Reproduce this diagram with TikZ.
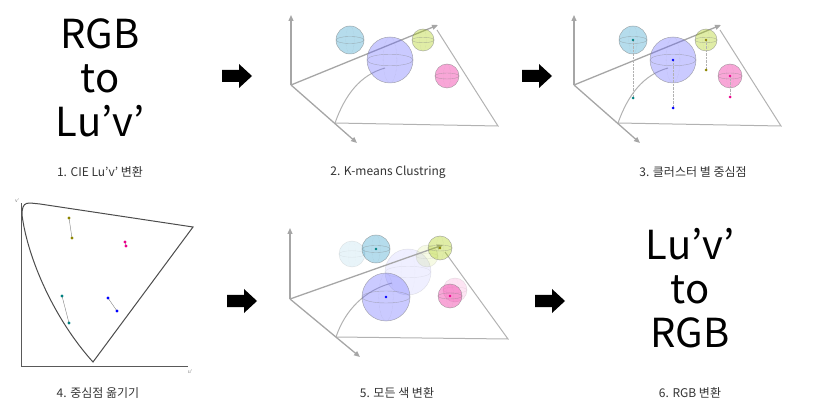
\documentclass[tikz,border=0pt]{standalone}
\usepackage{fontspec}
\setmainfont{Noto Sans CJK KR}
\usetikzlibrary{arrows.meta}
\newcommand\mysph[5][1]{% opacity, x,y,r,color
  \fill[#5,opacity=0.35*#1] (#2,#3) circle (#4);
  \draw[gray,opacity=0.6*#1,line width=0.5pt] (#2,#3) circle (#4);
  \draw[gray,opacity=0.5*#1,line width=0.4pt] (#2,#3) ellipse ({#4} and {0.25*#4});
  \draw[gray,opacity=0.3*#1,line width=0.3pt,densely dotted] (#2,#3) ellipse ({0.3*#4} and {#4});
}
\newcommand\blkarrow[3]{% name, x, y (centre)
  \coordinate (#1) at (#2,#3);
  \fill[black] ([shift={(-15,-6)}]#1) -- ++(17,0) -- ++(0,-6) -- ++(13,12) -- ++(-13,12) -- ++(0,-6) -- ++(-17,0) -- cycle;
}
\begin{document}
\begin{tikzpicture}[x=1pt,y=-1pt,
  ax/.style={gray!70,line width=1.3pt,-{Triangle[length=6pt,width=5pt]}},
  tri/.style={gray!60,line width=1pt},
  lab/.style={font=\fontsize{12}{14}\selectfont,text=black!80},
  big/.style={font=\fontsize{40}{48}\selectfont,align=center,text=black}]
\useasboundingbox (0,0) rectangle (819,403);
% panel 1
\node[big] (t1) at (100,78) {RGB\\[-4pt]to\\[-4pt]Lu’v’};
\node[lab] (l1) at (100,172) {1. CIE Lu’v’ 변환};
\blkarrow{a1}{237}{76}
% panel 2
\foreach \dx/\nm in {0/b,283/c}{
\begin{scope}[xshift=\dx]
\coordinate (o\nm) at (291,85);
\draw[tri] (335,123) -- (498,126) -- (437,30);
\draw[tri] (335,123) .. controls (345,95) and (360,75) .. (385,68);
\draw[ax] (o\nm) -- (291,15);
\draw[ax] (o\nm) -- (438,25);
\draw[ax] (o\nm) -- (357,143);
\end{scope}}
\mysph{350}{40}{14}{cyan!60!teal}
\mysph{390}{60}{23}{blue!60}
\mysph{423}{40}{11}{lime!60!olive}
\mysph{447}{76}{12}{magenta}
\node[lab] (l2) at (388,172) {2. K-means Clustring};
\blkarrow{a2}{537}{76}
% panel 3
\mysph{633}{40}{14}{cyan!60!teal}
\mysph{673}{60}{23}{blue!60}
\mysph{706}{40}{11}{lime!60!olive}
\mysph{730}{76}{12}{magenta}
\foreach \x/\y/\yy/\c in {633/40/98/teal,673/60/108/blue,706/40/70/olive,730/76/97/magenta}{
  \draw[gray!60,densely dotted,line width=0.4pt] (\x,\y) -- (\x,\yy);
  \fill[\c] (\x,\y) circle (1.3);
  \fill[\c] (\x,\yy) circle (1.5);}
\node[lab] (l3) at (693,172) {3. 클러스터 별 중심점};
% panel 4
\draw[gray!70!black,line width=0.8pt] (21,366) -- (21,203);
\draw[gray!70!black,line width=0.8pt] (21,366) -- (188,366);
\node[font=\tiny,text=gray] (u4) at (17,201) {v’};
\node[font=\tiny,text=gray] (v4) at (190,372) {u’};
\draw[gray!60!black,line width=1pt] (22,215) .. controls (22,200) and (28,203) .. (40,204)
  -- (193,227) -- (93,362) .. controls (55,320) and (28,260) .. (22,215);
\foreach \ax/\ay/\bx/\by/\c in {69/218/72/238/olive,125/242/126/246/magenta,62/296/69/323/teal,108/298/117/311/blue}{
  \draw[gray,line width=0.4pt] (\ax,\ay) -- (\bx,\by);
  \fill[\c] (\ax,\ay) circle (1.6);
  \fill[\c] (\bx,\by) circle (1.6);}
\node[lab] (l4) at (98,393) {4. 중심점 옮기기};
\blkarrow{a4}{242}{301}
% panel 5
\coordinate (oe) at (290,299);
\draw[tri] (336,337) -- (508,339) -- (445,252);
\draw[tri] (336,337) .. controls (345,310) and (365,290) .. (392,283);
\mysph[0.3]{352}{254}{13}{cyan!60!teal}
\mysph[0.3]{408}{272}{23}{blue!60}
\mysph[0.3]{427}{256}{11}{lime!60!olive}
\mysph[0.3]{455}{290}{12}{magenta}
\draw[ax] (oe) -- (290,228);
\draw[ax] (oe) -- (443,245);
\draw[ax] (oe) -- (360,357);
\mysph{376}{249}{14}{cyan!60!teal}
\mysph{440}{248}{12}{lime!60!olive}
\mysph{386}{297}{24}{blue!60}
\mysph{450}{296}{12}{magenta}
\foreach \x/\y/\c in {376/249/teal,440/248/olive,386/297/blue,450/296/magenta}{\fill[\c] (\x,\y) circle (1.4);}
\node[lab] (l5) at (397,393) {5. 모든 색 변환};
\blkarrow{a5}{550}{301}
% panel 6
\node[big] (t6) at (690,288) {Lu’v’\\[-4pt]to\\[-4pt]RGB};
\node[lab] (l6) at (690,393) {6. RGB 변환};
\end{tikzpicture}
\end{document}
